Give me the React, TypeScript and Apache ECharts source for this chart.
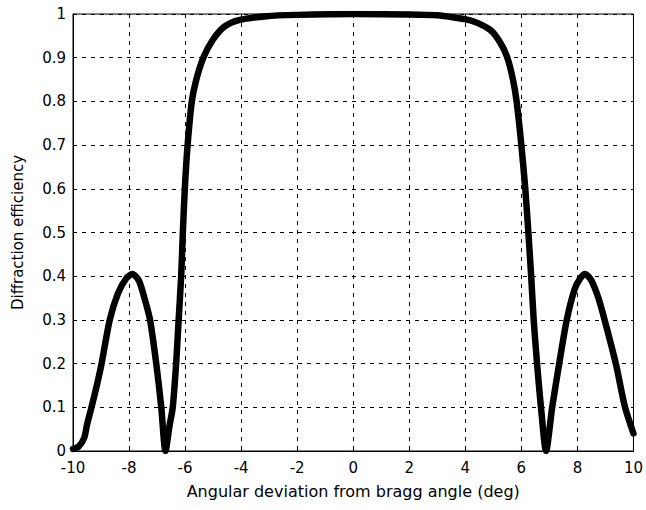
import React, { useEffect, useRef } from "react";
import * as echarts from "echarts";

const xValues = [
  -10, -9.8, -9.6, -9.5, -9.34, -9.15, -8.98, -8.69, -8.4, -8.1, -7.88, -7.65, -7.45, -7.25, -7.03, -6.85, -6.7,
  -6.55, -6.44, -6.32, -6.23, -6.14, -6.08, -6.01, -5.91, -5.76, -5.6, -5.35, -5.02, -4.6, -4.08, -3.1, -2, 0, 2,
  3, 3.6, 4.2, 4.9, 5.26, 5.5, 5.7, 5.83, 6.0, 6.14, 6.25, 6.35, 6.44, 6.56, 6.7, 6.88, 7.1, 7.35, 7.62, 7.9, 8.1,
  8.27, 8.5, 8.75, 8.97, 9.37, 9.7, 10,
];
const efficiency = [
  0.005, 0.01, 0.03, 0.06, 0.1, 0.15, 0.2, 0.3, 0.36, 0.395, 0.405, 0.39, 0.35, 0.3, 0.2, 0.1, 0.0,
  0.06, 0.1, 0.2, 0.3, 0.4, 0.5, 0.6, 0.7, 0.8, 0.85, 0.9, 0.94, 0.971, 0.986, 0.995, 0.998, 1.0, 0.999,
  0.997, 0.992, 0.985, 0.963, 0.933, 0.9, 0.85, 0.8, 0.7, 0.6, 0.5, 0.4, 0.3, 0.2, 0.1, 0.0, 0.1, 0.2, 0.3, 0.37, 0.395,
  0.405, 0.39, 0.35, 0.3, 0.2, 0.1, 0.04,
];

const xTicks = [-10, -8, -6, -4, -2, 0, 2, 4, 6, 8, 10];
const yTicks = [0, 0.1, 0.2, 0.3, 0.4, 0.5, 0.6, 0.7, 0.8, 0.9, 1];

export default function App() {
  const ref = useRef<HTMLDivElement>(null);
  useEffect(() => {
    if (!ref.current) return;
    const chart = echarts.init(ref.current, null, { renderer: "svg" });
    const font = "'DejaVu Sans', sans-serif";
    const data = xValues.map((x, i) => [x, efficiency[i]]);
    chart.setOption({
      animation: false,
      backgroundColor: "#ffffff",
      grid: { left: 73, top: 14, right: 9, bottom: 59, show: true, borderColor: "#000", borderWidth: 1 },
      xAxis: {
        type: "value",
        min: -10,
        max: 10,
        interval: 2,
        name: "Angular deviation from bragg angle (deg)",
        nameLocation: "middle",
        nameGap: 32,
        nameTextStyle: { color: "#000", fontFamily: font, fontSize: 16 },
        axisLine: { show: true, onZero: false, lineStyle: { color: "#000", width: 1 } },
        axisTick: { show: true, inside: true, length: 4, lineStyle: { color: "#000" } },
        axisLabel: {
          color: "#000",
          fontFamily: font,
          fontSize: 15,
          margin: 9,
          formatter: (v: number) => (xTicks.includes(v) ? String(v) : ""),
        },
        splitLine: { show: true, lineStyle: { color: "#000", type: [4, 5], width: 1 } },
      },
      yAxis: {
        type: "value",
        min: 0,
        max: 1,
        interval: 0.1,
        name: "Diffraction efficiency",
        nameLocation: "middle",
        nameGap: 48,
        nameRotate: 90,
        nameTextStyle: { color: "#000", fontFamily: font, fontSize: 15 },
        axisLine: { show: true, onZero: false, lineStyle: { color: "#000", width: 1 } },
        axisTick: { show: true, inside: true, length: 4, lineStyle: { color: "#000" } },
        axisLabel: {
          color: "#000",
          fontFamily: font,
          fontSize: 15,
          margin: 7,
          formatter: (v: number) => {
            const r = Math.round(v * 10) / 10;
            return yTicks.includes(r) ? String(r) : "";
          },
        },
        splitLine: { show: true, lineStyle: { color: "#000", type: [4, 5], width: 1 } },
      },
      series: [
        {
          type: "line",
          data,
          showSymbol: false,
          smooth: 0.25,
          lineStyle: { color: "#000", width: 6.5, cap: "round", join: "round" },
        },
      ],
    });
    return () => chart.dispose();
  }, []);
  return (
    <div
      ref={ref}
      style={{ position: "fixed", left: 0, top: 0, width: 646, height: 510, background: "#fff" }}
    />
  );
}
